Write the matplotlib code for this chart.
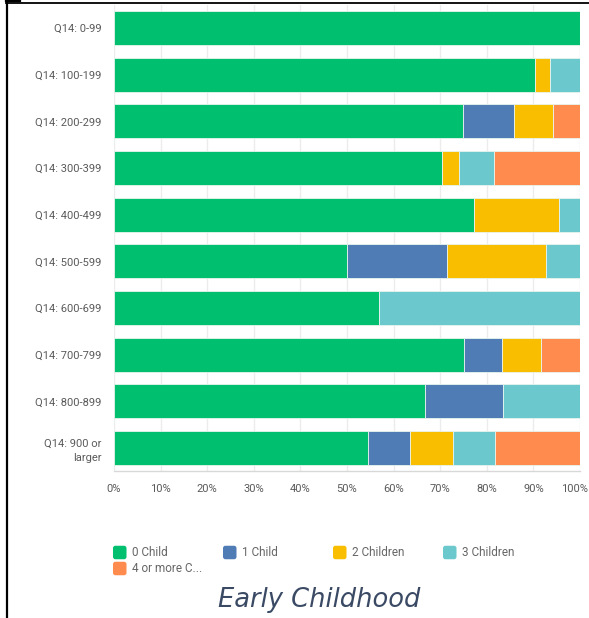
import matplotlib.pyplot as plt
import matplotlib.transforms as mtransforms
from matplotlib.patches import FancyBboxPatch
from matplotlib.lines import Line2D

# 数据
categories = ['Q14: 0-99', 'Q14: 100-199', 'Q14: 200-299', 'Q14: 300-399', 'Q14: 400-499',
              'Q14: 500-599', 'Q14: 600-699', 'Q14: 700-799', 'Q14: 800-899', 'Q14: 900 or\nlarger']
series_names = ['0 Child', '1 Child', '2 Children', '3 Children', '4 or more C...']
child0 = [100.0, 90.3, 74.8, 70.4, 77.3, 50.0, 56.8, 75.0, 66.7, 54.5]
child1 = [0.0, 0.0, 11.0, 0.0, 0.0, 21.4, 0.0, 8.3, 16.7, 9.1]
child2 = [0.0, 3.2, 8.5, 3.7, 18.2, 21.4, 0.0, 8.3, 0.0, 9.1]
child3 = [0.0, 6.5, 0.0, 7.4, 4.5, 7.2, 43.2, 0.0, 16.6, 9.1]
child4 = [0.0, 0.0, 5.7, 18.5, 0.0, 0.0, 0.0, 8.4, 0.0, 18.2]
xticks = [0, 10, 20, 30, 40, 50, 60, 70, 80, 90, 100]

colors = ['#00bf6f', '#507cb6', '#f9be00', '#6bc8cd', '#ff8b4f']

W, H = 589, 618
fig = plt.figure(figsize=(W / 100, H / 100), dpi=100)
fig.set_facecolor('white')

# 坐标轴位置（像素 -> 比例）
left, right, top, bottom = 114, 580, 4.7, 471.3
ax = fig.add_axes([left / W, 1 - bottom / H, (right - left) / W, (bottom - top) / H])

ypos = list(range(len(categories)))
base = [0.0] * len(categories)
for vals, c, name in zip([child0, child1, child2, child3, child4], colors, series_names):
    ax.barh(ypos, vals, left=base, height=0.73, color=c, edgecolor='#e8f4ee',
            linewidth=0.6, label=name, zorder=3)
    base = [b + v for b, v in zip(base, vals)]

ax.set_xlim(0, 100)
ax.set_ylim(9.5, -0.5)
ax.set_xticks(xticks)
ax.set_xticklabels([f'{t}%' for t in xticks])
ax.set_yticks(ypos)
ax.set_yticklabels(categories, ha='right', linespacing=1.5)
ax.tick_params(axis='both', length=0, labelcolor='#5a5a5a', labelsize=8)
ax.tick_params(axis='y', pad=9)
ax.tick_params(axis='x', pad=9)
for lab in ax.get_xticklabels() + ax.get_yticklabels():
    lab.set_fontfamily('Roboto')

# 100% 标签稍微左移，免得贴边被截
last = ax.get_xticklabels()[-1]
last.set_transform(last.get_transform() + mtransforms.ScaledTranslation(-5 / 100, 0, fig.dpi_scale_trans))

ax.grid(axis='x', color='#ececec', linewidth=1, zorder=0)
for s in ['top', 'right', 'left']:
    ax.spines[s].set_visible(False)
ax.spines['bottom'].set_color('#d8d8d8')
ax.spines['bottom'].set_linewidth(1)

# 图例（手动排布）
legend_pos = [(113, 552.5), (223, 552.5), (333, 552.5), (443, 552.5), (113, 568.5)]
for (lx, ly), c, name in zip(legend_pos, colors, series_names):
    sq = 13.5
    patch = FancyBboxPatch(((lx) / W, 1 - (ly + sq / 2) / H), sq / W, sq / H,
                           boxstyle='round,pad=0,rounding_size=0.004',
                           transform=fig.transFigure, facecolor=c, edgecolor='none')
    fig.patches.append(patch)
    fig.text((lx + 19) / W, 1 - ly / H, name, fontsize=8.5, color='#666666',
             family='Roboto', va='center', ha='left')

# 标题
fig.text(319 / W, 1 - 600 / H, 'Early Childhood', fontsize=18.5, style='italic',
         color='#3b4a64', ha='center', va='center', family='DejaVu Sans')

# 外框线
fig.add_artist(Line2D([7 / W, 7 / W], [1 - 2 / H, 0], transform=fig.transFigure,
                      color='black', linewidth=1.6))
fig.add_artist(Line2D([6 / W, 1], [1 - 2.5 / H, 1 - 2.5 / H], transform=fig.transFigure,
                      color='black', linewidth=1.3))
fig.add_artist(Line2D([6 / W, 20 / W], [1 - 1 / H, 1 - 1 / H], transform=fig.transFigure,
                      color='black', linewidth=1.6))

plt.savefig('out.png', dpi=100)
